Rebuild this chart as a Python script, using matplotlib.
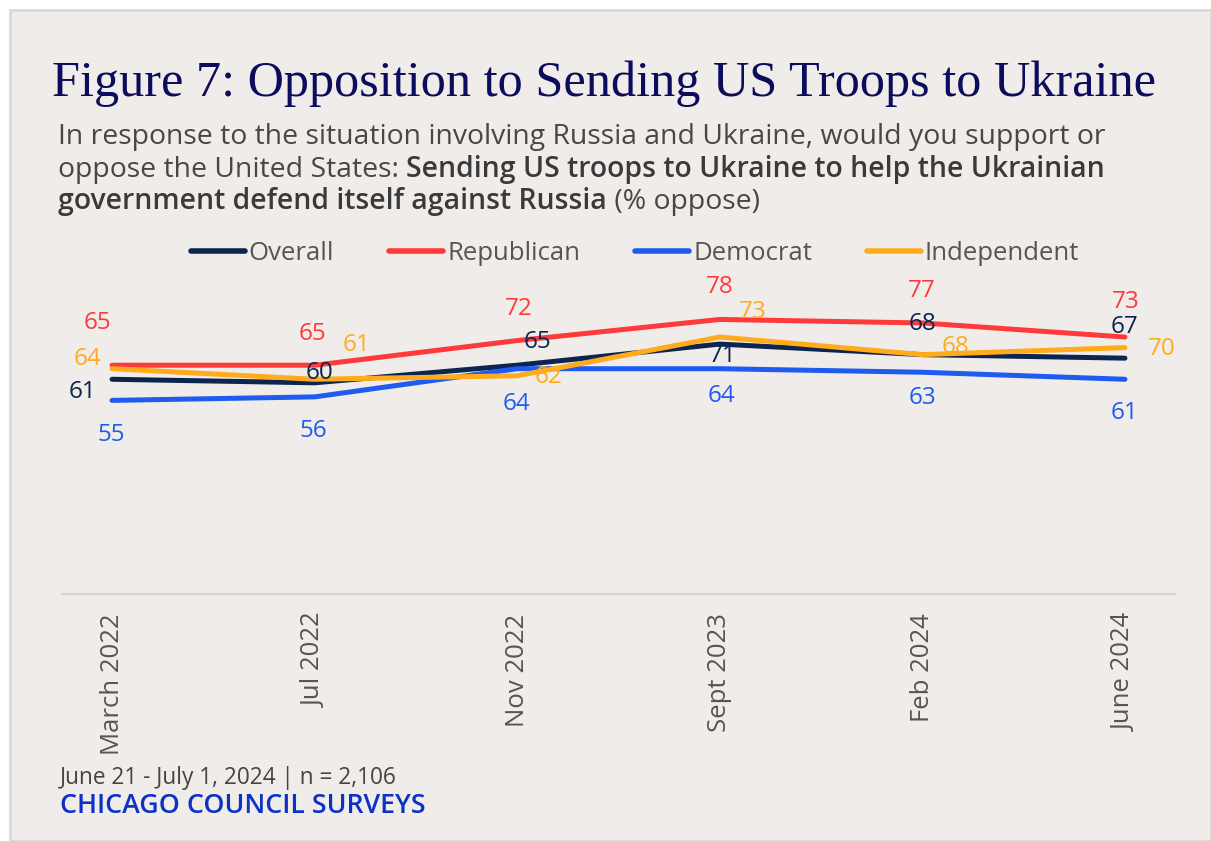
import matplotlib
matplotlib.use("Agg")
import matplotlib.pyplot as plt
from matplotlib.patches import Rectangle
from matplotlib.lines import Line2D
from matplotlib.text import Annotation

# Survey waves and % oppose by party
waves = ["March 2022", "Jul 2022", "Nov 2022", "Sept 2023", "Feb 2024", "June 2024"]
overall = [61, 60, 65, 71, 68, 67]
republican = [65, 65, 72, 78, 77, 73]
democrat = [55, 56, 64, 64, 63, 61]
independent = [64, 61, 62, 73, 68, 70]

series_names = ["Overall", "Republican", "Democrat", "Independent"]
colors = ["#0b2550", "#ff3a3a", "#1f5bef", "#ffab1c"]

# where each value label sits relative to its point (pixels)
label_offsets = [
    [(-30, -13), (5, 10), (20, 23), (3, -12), (0, 31), (0, 31)],
    [(-15, 42), (-2, 31), (2, 32), (0, 32), (-1, 32), (1, 35)],
    [(-1, -35), (-1, -34), (-1, -35), (2, -27), (0, -26), (0, -34)],
    [(-25, 10), (42, 34), (31, -1), (33, 25), (33, 8), (37, -1)],
]

BG = "#f0ecea"
SANS = "Open Sans"
GREY = "#474747"
DARK = "#3a3a3a"

fig = plt.figure(figsize=(12.11, 8.41), dpi=100, facecolor="white")
W, H = 1211, 841

def fx(px):
    return px / W

def fy(py):
    return 1 - py / H

# grey card with thin border
fig.patches.append(Rectangle((fx(10), fy(841)), fx(1201), 831 / H,
                             transform=fig.transFigure, facecolor=BG,
                             edgecolor="#d9d9d9", linewidth=2, zorder=-10))

renderer = fig.canvas.get_renderer()

title = fig.text(fx(52), fy(84), "Figure 7: Opposition to Sending US Troops to Ukraine",
                 family="Liberation Serif", fontsize=37, color="#0c0c5c", va="center")
title.set_fontsize(37 * 1105 / title.get_window_extent(renderer).width)

# subtitle, first line sized to span the card
t1 = fig.text(fx(58), fy(144),
              "In response to the situation involving Russia and Ukraine, would you support or",
              family=SANS, fontsize=17, color=GREY, va="baseline")
sub_size = 17 * 1050 / t1.get_window_extent(renderer).width
t1.set_fontsize(sub_size)

t2 = fig.text(fx(58), fy(177), "oppose the United States: ", family=SANS,
              fontsize=sub_size, color=GREY, va="baseline")
fig.add_artist(Annotation("Sending US troops to Ukraine to help the Ukrainian",
                          xy=(1, 0), xycoords=t2, ha="left", va="bottom",
                          family=SANS, fontsize=sub_size, color=DARK,
                          weight="semibold"))
t3 = fig.text(fx(58), fy(209), "government defend itself against Russia",
              family=SANS, fontsize=sub_size, color=DARK, weight="semibold",
              va="baseline")
fig.add_artist(Annotation(" (% oppose)", xy=(1, 0), xycoords=t3, ha="left",
                          va="bottom", family=SANS, fontsize=sub_size, color=GREY))

ax = fig.add_axes([fx(62), fy(594), fx(1175 - 62), 352 / H])
ax.set_facecolor("none")

x = list(range(len(waves)))
all_series = [overall, republican, democrat, independent]
for vals, name, col, offs in zip(all_series, series_names, colors, label_offsets):
    ax.plot(x, vals, color=col, lw=3.6, solid_capstyle="round", label=name, zorder=3)
    for xi, v, (dx, dy) in zip(x, vals, offs):
        ax.annotate(str(v), xy=(xi, v), xytext=(dx, dy), textcoords="offset pixels",
                    ha="center", va="center", family=SANS, fontsize=17.5,
                    color=col, zorder=4)

ax.set_xlim(-0.247, 5.247)
ax.set_ylim(0, 100)
ax.set_yticks([])
ax.set_xticks(x)
ax.set_xticklabels(waves, rotation=90, family=SANS, fontsize=18.5, color="#555555",
                   va="top", ha="center")
ax.tick_params(axis="x", length=0, pad=14)
for side in ["top", "left", "right"]:
    ax.spines[side].set_visible(False)
ax.spines["bottom"].set_color("#d8d6d4")
ax.spines["bottom"].set_linewidth(1.5)

handles = [Line2D([], [], color=c, lw=4, solid_capstyle="round") for c in colors]
fig.legend(handles, series_names, loc="center", bbox_to_anchor=(fx(635), fy(253)),
           ncol=4, frameon=False, handlelength=2.1, handletextpad=0.15,
           columnspacing=2.15, prop={"family": SANS, "size": 18.5},
           labelcolor="#555555")

fig.text(fx(60), fy(778), "June 21 - July 1, 2024 | n = 2,106", family=SANS,
         fontsize=16.3, color="#444444", va="center")
fig.text(fx(60), fy(806), "CHICAGO COUNCIL SURVEYS", family=SANS, fontsize=19.3,
         color="#0a32c8", weight="semibold", va="center")

fig.savefig("out.png", dpi=100, facecolor="white")
